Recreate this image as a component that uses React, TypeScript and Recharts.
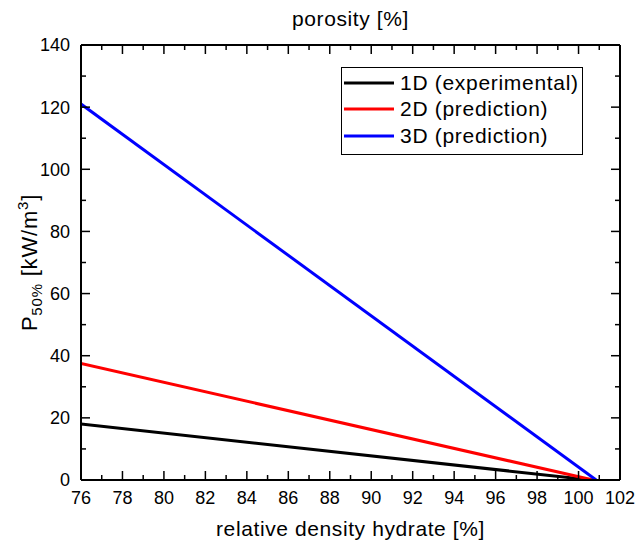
import React from 'react';
import { LineChart, Line, XAxis, YAxis, Legend } from 'recharts';

const FONT = '"Liberation Sans", Arial, Helvetica, sans-serif';

// ---- data ----
const seriesNames = ['1D (experimental)', '2D (prediction)', '3D (prediction)'];
const seriesColors = ['#000000', '#ff0000', '#0000ff'];

const oneDX = [76, 100.6];
const oneDY = [18, 0];
const twoDX = [76, 100.7];
const twoDY = [37.5, 0];
const threeDX = [76, 100.85];
const threeDY = [121, 0];

const xTicks = [76, 77, 78, 79, 80, 81, 82, 83, 84, 85, 86, 87, 88, 89, 90, 91, 92, 93, 94, 95, 96, 97, 98, 99, 100, 101, 102];
const xLabelTicks = [76, 78, 80, 82, 84, 86, 88, 90, 92, 94, 96, 98, 100, 102];
const yTicks = [0, 10, 20, 30, 40, 50, 60, 70, 80, 90, 100, 110, 120, 130, 140];
const yLabelTicks = [0, 20, 40, 60, 80, 100, 120, 140];

const toPoints = (xs: number[], ys: number[]) => xs.map((x, i) => ({ x, y: ys[i] }));
const seriesData = [toPoints(oneDX, oneDY), toPoints(twoDX, twoDY), toPoints(threeDX, threeDY)];

// ---- layout ----
const W = 637;
const H = 540;
const LEFT = 81;
const RIGHT = 17;
const TOP = 45;
const BOTTOM = 60;
const MAJOR = 9;
const MINOR = 5;

const BottomTick = (props: any) => {
  const { x, y, payload } = props;
  const v = payload.value;
  const major = xLabelTicks.includes(v);
  return (
    <g>
      <line x1={x} x2={x} y1={y} y2={y - (major ? MAJOR : MINOR)} stroke="#000" strokeWidth={1.5} />
      {major && (
        <text x={x} y={y + 24} textAnchor="middle" fontSize={18} fontFamily={FONT} fill="#000">
          {v}
        </text>
      )}
    </g>
  );
};

const TopTick = (props: any) => {
  const { x, y, payload } = props;
  const major = xLabelTicks.includes(payload.value);
  return <line x1={x} x2={x} y1={y} y2={y + (major ? MAJOR : MINOR)} stroke="#000" strokeWidth={1.5} />;
};

const LeftTick = (props: any) => {
  const { x, y, payload } = props;
  const v = payload.value;
  const major = yLabelTicks.includes(v);
  return (
    <g>
      <line x1={x} x2={x + (major ? MAJOR : MINOR)} y1={y} y2={y} stroke="#000" strokeWidth={1.5} />
      {major && (
        <text x={x - 11} y={y + 6.4} textAnchor="end" fontSize={18} fontFamily={FONT} fill="#000">
          {v}
        </text>
      )}
    </g>
  );
};

const RightTick = (props: any) => {
  const { x, y, payload } = props;
  const major = yLabelTicks.includes(payload.value);
  return <line x1={x} x2={x - (major ? MAJOR : MINOR)} y1={y} y2={y} stroke="#000" strokeWidth={1.5} />;
};

const titleStyle = { letterSpacing: '0.6px' };

const BottomTitle = () => (
  <text
    x={(LEFT + (W - RIGHT)) / 2}
    y={H - 4}
    textAnchor="middle"
    fontSize={21}
    fontFamily={FONT}
    fill="#000"
    style={titleStyle}
  >
    relative density hydrate [%]
  </text>
);

const TopTitle = () => (
  <text
    x={(LEFT + (W - RIGHT)) / 2}
    y={26}
    textAnchor="middle"
    fontSize={21}
    fontFamily={FONT}
    fill="#000"
    style={titleStyle}
  >
    porosity [%]
  </text>
);

const LeftTitle = () => {
  const cx = 37;
  const cy = (TOP + (H - BOTTOM)) / 2;
  return (
    <text
      x={cx}
      y={cy}
      transform={`rotate(-90, ${cx}, ${cy})`}
      textAnchor="middle"
      fontSize={22}
      fontFamily={FONT}
      fill="#000"
      style={{ letterSpacing: '0.8px' }}
    >
      <tspan>P</tspan>
      <tspan fontSize={15} dy={5}>50%</tspan>
      <tspan dy={-5}> [kW/m</tspan>
      <tspan fontSize={15} dy={-9}>3</tspan>
      <tspan dy={9}>]</tspan>
    </text>
  );
};

const LegendBox = (props: any) => {
  const payload = (props.payload || []).slice().sort(
    (a: any, b: any) => seriesNames.indexOf(a.value) - seriesNames.indexOf(b.value)
  );
  return (
    <div
      style={{
        border: '1px solid #000',
        background: '#fff',
        width: 240,
        height: 84,
        paddingTop: 1.5,
        boxSizing: 'content-box',
        fontFamily: FONT,
        fontSize: 21,
        letterSpacing: '0.7px',
        color: '#000',
      }}
    >
      {payload.map((p: any, i: number) => (
        <div key={i} style={{ display: 'flex', alignItems: 'center', height: 26.5, whiteSpace: 'nowrap' }}>
          <svg width={52} height={6} style={{ display: 'block' }}>
            <line x1={2} x2={52} y1={3} y2={3} stroke={p.color} strokeWidth={3} />
          </svg>
          <span style={{ marginLeft: 6, lineHeight: '26.5px' }}>{p.value}</span>
        </div>
      ))}
    </div>
  );
};

export default function App() {
  return (
    <div style={{ position: 'absolute', left: 0, top: 0, width: W, height: H, background: '#fff' }}>
      <LineChart width={W} height={H} margin={{ top: 0, right: 0, bottom: 0, left: 0 }}>
        <XAxis
          xAxisId={0}
          dataKey="x"
          type="number"
          domain={[76, 102]}
          allowDataOverflow
          ticks={xTicks}
          interval={0}
          height={BOTTOM}
          tickSize={0}
          tickMargin={0}
          tickLine={false}
          tick={<BottomTick />}
          axisLine={{ stroke: '#000', strokeWidth: 2 }}
          label={<BottomTitle />}
        />
        <XAxis
          xAxisId="top"
          orientation="top"
          dataKey="x"
          type="number"
          domain={[76, 102]}
          allowDataOverflow
          ticks={xTicks}
          interval={0}
          height={TOP}
          tickSize={0}
          tickMargin={0}
          tickLine={false}
          tick={<TopTick />}
          axisLine={{ stroke: '#000', strokeWidth: 2 }}
          label={<TopTitle />}
        />
        <YAxis
          yAxisId={0}
          type="number"
          domain={[0, 140]}
          allowDataOverflow
          ticks={yTicks}
          interval={0}
          width={LEFT}
          tickSize={0}
          tickMargin={0}
          tickLine={false}
          tick={<LeftTick />}
          axisLine={{ stroke: '#000', strokeWidth: 2 }}
          label={<LeftTitle />}
        />
        <YAxis
          yAxisId="right"
          orientation="right"
          type="number"
          domain={[0, 140]}
          allowDataOverflow
          ticks={yTicks}
          interval={0}
          width={RIGHT}
          tickSize={0}
          tickMargin={0}
          tickLine={false}
          tick={<RightTick />}
          axisLine={{ stroke: '#000', strokeWidth: 2 }}
        />
        {seriesData.map((d, i) => (
          <Line
            key={seriesNames[i]}
            data={d}
            dataKey="y"
            name={seriesNames[i]}
            stroke={seriesColors[i]}
            strokeWidth={3}
            dot={false}
            activeDot={false}
            isAnimationActive={false}
            xAxisId={0}
            yAxisId={0}
          />
        ))}
        <Legend
          layout="vertical"
          align="center"
          verticalAlign="middle"
          content={<LegendBox />}
          wrapperStyle={{ position: 'absolute', left: 341, top: 67, width: 'auto', height: 'auto' }}
        />
      </LineChart>
    </div>
  );
}
